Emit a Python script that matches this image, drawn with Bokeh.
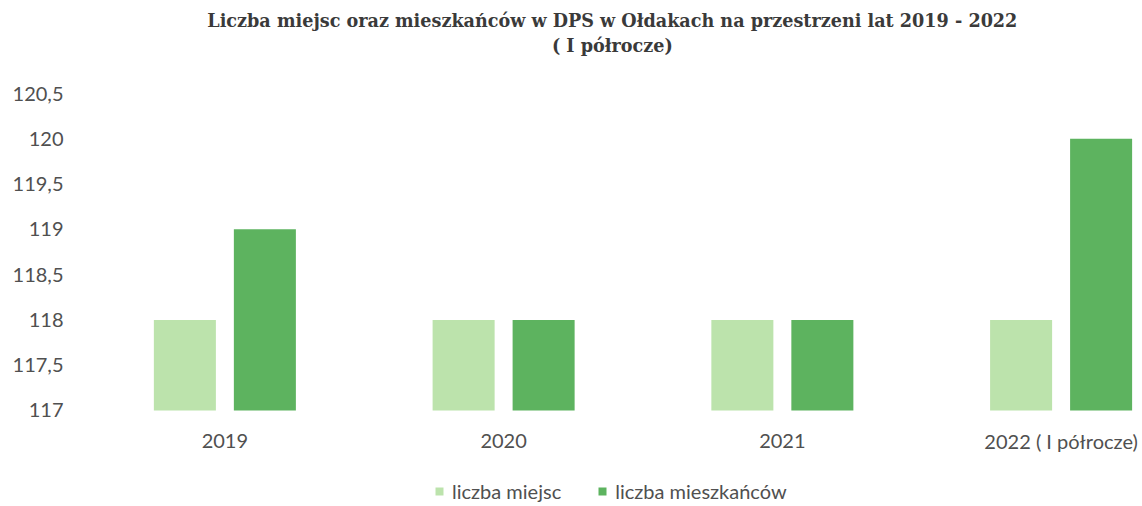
from bokeh.plotting import figure
from bokeh.models import ColumnDataSource, FixedTicker, Range1d, Legend, LegendItem, Label
from bokeh.core.properties import value
from bokeh.embed import file_html
from bokeh.resources import INLINE

categories = ["2019", "2020", "2021", "2022 ( I półrocze)"]
liczba_miejsc = [118, 118, 118, 118]
liczba_mieszkancow = [119, 118, 118, 120]
y_ticks = [117, 117.5, 118, 118.5, 119, 119.5, 120, 120.5]
title_1 = "Liczba miejsc oraz mieszkańców w DPS w Ołdakach na przestrzeni lat 2019 - 2022"
title_2 = "( I półrocze)"

xs = list(range(len(categories)))
src = ColumnDataSource(dict(
    x=xs,
    x1=[x - 0.1435 for x in xs],
    x2=[x + 0.1435 for x in xs],
    m=liczba_miejsc,
    r=liczba_mieszkancow,
    cat=categories,
    ly=[116.66] * len(xs),
))

p = figure(width=1142, height=506, output_backend="svg", toolbar_location=None,
           x_range=Range1d(-0.5, 3.292), y_range=Range1d(115.94, 121.527),
           min_border_left=85, min_border_right=0, min_border_top=0, min_border_bottom=0)
p.outline_line_color = None
p.grid.visible = False
p.xaxis.visible = False

r1 = p.vbar(x="x1", top="m", bottom=117, width=0.2225, source=src,
            fill_color="#bce3ac", line_color=None)
r2 = p.vbar(x="x2", top="r", bottom=117, width=0.2225, source=src,
            fill_color="#5db35f", line_color=None)

p.text(x="x", y="ly", text="cat", source=src, text_font=value("Lato"),
       text_font_size="20px", text_color="#505050", text_align="center",
       text_baseline="middle")

p.yaxis.ticker = FixedTicker(ticks=y_ticks)
p.yaxis.major_label_overrides = {t: (str(t).replace(".", ",") if t % 1 else str(int(t))) for t in y_ticks}
p.yaxis.axis_line_color = None
p.yaxis.major_tick_line_color = None
p.yaxis.minor_tick_line_color = None
p.yaxis.major_tick_out = 0
p.yaxis.minor_tick_out = 0
p.yaxis.major_label_text_font = "Lato"
p.yaxis.major_label_text_font_size = "20px"
p.yaxis.major_label_text_color = "#505050"
p.yaxis.major_label_standoff = 22

legend = Legend(items=[LegendItem(label="liczba miejsc", renderers=[r1]),
                       LegendItem(label="liczba mieszkańców", renderers=[r2])],
                orientation="horizontal", location=(349, 3),
                label_text_font="Lato", label_text_font_size="20px",
                label_text_color="#505050", glyph_width=10, glyph_height=10,
                label_standoff=8, spacing=36, border_line_color=None,
                background_fill_alpha=0, margin=0, padding=0)
p.add_layout(legend, "center")

title_kw = dict(text_font="DejaVu Serif", text_font_size="17.6px", text_font_style="bold",
                text_color="#3a3a3a", text_align="center", text_baseline="middle")
p.add_layout(Label(x=1.39, y=121.306, text=title_1, **title_kw))
p.add_layout(Label(x=1.39, y=121.03, text=title_2, **title_kw))

open("out.html", "w").write(file_html(p, INLINE))
